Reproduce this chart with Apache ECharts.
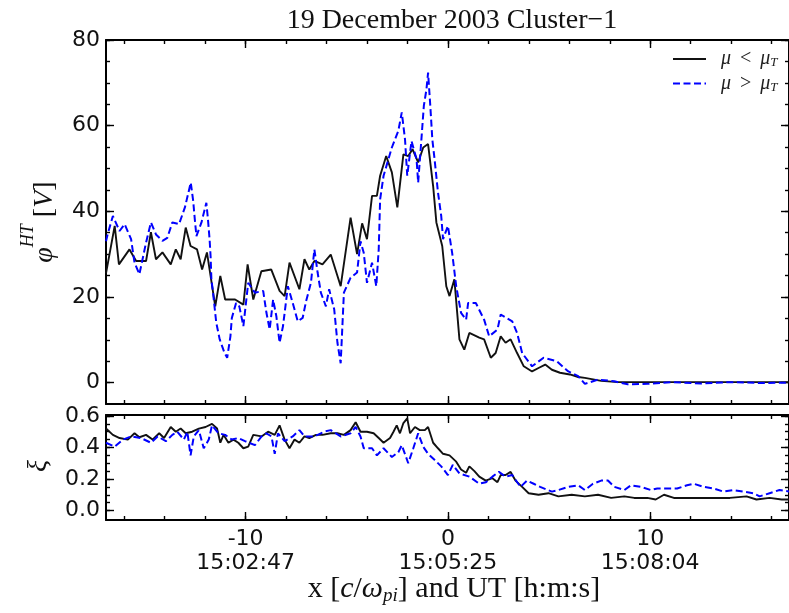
<!DOCTYPE html>
<html>
<head>
<meta charset="utf-8">
<script src="https://cdn.jsdelivr.net/npm/echarts@6/dist/echarts.min.js"></script>
<style>
  html, body { margin: 0; padding: 0; background: #fff; }
  #chart { width: 789px; height: 613px; }
</style>
</head>
<body>
<div id="chart"></div>
<script>
// Electric potential in the de Hoffmann-Teller frame, split by magnetic moment
const seriesNames = ['μ < μT', 'μ > μT'];

// phi^HT [V], mu < mu_T  (x in c/omega_pi)
const phiBelow = [
  [-16.9, 25.5], [-16.47, 36.6], [-16.26, 27.6], [-15.74, 31.1], [-15.41, 28.4],
  [-14.92, 28.4], [-14.68, 35.1], [-14.43, 28.8], [-14.11, 30.4], [-13.70, 27.6],
  [-13.45, 31.1], [-13.21, 28.8], [-12.96, 36.2], [-12.72, 31.9], [-12.40, 31.1],
  [-12.15, 26.4], [-11.91, 30.4], [-11.50, 17.8], [-11.25, 24.9], [-11.01, 19.4],
  [-10.52, 19.4], [-10.11, 18.2], [-9.90, 27.6], [-9.62, 19.4], [-9.22, 26.0],
  [-8.73, 26.4], [-8.32, 21.4], [-8.07, 20.2], [-7.83, 28.0], [-7.34, 21.8],
  [-7.09, 28.8], [-6.85, 26.4], [-6.60, 28.4], [-6.20, 27.6], [-5.79, 29.9],
  [-5.30, 22.5], [-4.81, 38.5], [-4.49, 30.0], [-4.24, 37.2], [-4.00, 33.5],
  [-3.75, 43.6], [-3.51, 43.6], [-3.35, 48.3], [-3.05, 52.9], [-2.77, 49.1],
  [-2.50, 40.9], [-2.20, 53.3], [-1.96, 52.9], [-1.75, 54.5], [-1.47, 51.4],
  [-1.22, 54.9], [-0.98, 55.7], [-0.73, 45.9], [-0.57, 37.4], [-0.28, 31.9],
  [-0.08, 22.5], [0.08, 20.2], [0.32, 24.1], [0.57, 10.1], [0.81, 7.7],
  [1.06, 11.6], [1.55, 10.5], [1.79, 10.1], [2.12, 5.8], [2.36, 6.9],
  [2.61, 10.8], [2.85, 9.3], [3.10, 10.1], [3.42, 6.9], [3.75, 3.8],
  [4.16, 2.6], [4.48, 3.4], [4.81, 4.2], [5.14, 3.0], [5.54, 2.3],
  [6.03, 1.9], [6.44, 1.3], [6.77, 1.1], [7.58, 0.4], [8.40, 0.1],
  [10.0, 0.1], [12.0, 0.1], [14.0, 0.1], [16.9, 0.1]
];

// phi^HT [V], mu > mu_T
const phiAbove = [
  [-16.9, 33.0], [-16.82, 34.6], [-16.56, 38.9], [-16.23, 35.4], [-15.98, 37.0],
  [-15.66, 33.5], [-15.49, 28.0], [-15.25, 25.3], [-14.92, 32.7], [-14.68, 37.4],
  [-14.43, 34.6], [-14.11, 33.1], [-13.87, 33.8], [-13.62, 37.4], [-13.29, 37.0],
  [-13.00, 40.9], [-12.71, 46.7], [-12.59, 42.4], [-12.51, 38.1], [-12.43, 34.2],
  [-12.18, 37.4], [-11.94, 42.0], [-11.86, 38.1], [-11.78, 33.5], [-11.73, 29.5],
  [-11.69, 24.1], [-11.61, 21.0], [-11.45, 14.0], [-11.28, 10.1], [-11.04, 6.9],
  [-10.91, 5.8], [-10.75, 10.8], [-10.68, 15.1], [-10.47, 18.6], [-10.31, 17.8],
  [-10.11, 13.2], [-9.87, 23.3], [-9.54, 21.0], [-9.13, 21.4], [-8.97, 16.3],
  [-8.81, 12.4], [-8.64, 19.4], [-8.48, 15.5], [-8.32, 9.3], [-8.15, 13.2],
  [-7.91, 22.5], [-7.67, 18.6], [-7.42, 14.3], [-7.18, 15.1], [-7.01, 19.0],
  [-6.77, 23.3], [-6.60, 31.1], [-6.44, 25.7], [-6.28, 21.0], [-6.03, 17.8],
  [-5.87, 21.8], [-5.62, 17.1], [-5.46, 9.3], [-5.30, 4.5], [-5.14, 21.0],
  [-4.81, 24.5], [-4.49, 25.7], [-4.32, 33.0], [-4.16, 30.3], [-4.00, 23.3],
  [-3.75, 28.0], [-3.54, 22.5], [-3.42, 31.1], [-3.35, 42.8], [-3.18, 48.3],
  [-2.77, 54.9], [-2.45, 58.8], [-2.28, 63.1], [-2.12, 56.8], [-2.01, 48.3],
  [-1.80, 56.4], [-1.55, 52.2], [-1.47, 46.7], [-1.31, 56.8], [-1.19, 64.6],
  [-1.06, 68.5], [-0.98, 72.4], [-0.87, 64.6], [-0.77, 56.8], [-0.66, 52.2],
  [-0.49, 44.4], [-0.33, 38.9], [-0.24, 33.5], [0.00, 36.6], [0.21, 30.3],
  [0.41, 22.5], [0.65, 16.3], [0.90, 14.7], [1.00, 18.6], [1.38, 18.6],
  [1.79, 14.7], [2.04, 10.8], [2.45, 12.4], [2.61, 15.9], [3.18, 14.3],
  [3.42, 11.6], [3.67, 6.9], [4.16, 3.8], [4.73, 5.8], [5.38, 5.0],
  [5.95, 2.6], [6.44, 1.5], [6.77, -0.3], [7.42, 0.7], [8.23, 0.3],
  [8.89, -0.4], [9.87, -0.3], [11.0, 0.1], [12.5, -0.2], [14.0, 0.1],
  [15.5, -0.1], [16.9, 0.0]
];

// xi, mu < mu_T
const xiBelow = [
  [-16.9, 0.52], [-16.56, 0.48], [-16.23, 0.46], [-15.82, 0.45], [-15.49, 0.49],
  [-15.25, 0.465], [-14.92, 0.48], [-14.60, 0.45], [-14.27, 0.49], [-14.03, 0.46],
  [-13.70, 0.53], [-13.45, 0.50], [-13.21, 0.52], [-12.96, 0.49], [-12.64, 0.50],
  [-12.31, 0.52], [-11.98, 0.53], [-11.66, 0.55], [-11.41, 0.52], [-11.25, 0.43],
  [-11.09, 0.48], [-10.85, 0.43], [-10.60, 0.45], [-10.36, 0.43], [-10.11, 0.395],
  [-9.87, 0.405], [-9.62, 0.48], [-9.21, 0.47], [-8.89, 0.50], [-8.56, 0.48],
  [-8.32, 0.54], [-8.07, 0.45], [-7.83, 0.395], [-7.58, 0.45], [-7.34, 0.43],
  [-7.09, 0.47], [-6.85, 0.46], [-6.52, 0.48], [-6.20, 0.48], [-5.79, 0.49],
  [-5.46, 0.49], [-5.14, 0.48], [-4.81, 0.51], [-4.56, 0.56], [-4.32, 0.50],
  [-4.00, 0.50], [-3.67, 0.49], [-3.42, 0.46], [-3.18, 0.43], [-2.86, 0.46],
  [-2.69, 0.50], [-2.53, 0.54], [-2.37, 0.49], [-2.20, 0.555], [-2.01, 0.585],
  [-1.87, 0.49], [-1.63, 0.53], [-1.39, 0.51], [-1.14, 0.51], [-0.98, 0.53],
  [-0.73, 0.43], [-0.49, 0.395], [-0.24, 0.36], [0.08, 0.35], [0.41, 0.31],
  [0.65, 0.26], [0.90, 0.24], [1.06, 0.28], [1.31, 0.25], [1.55, 0.215],
  [1.87, 0.19], [2.20, 0.205], [2.45, 0.18], [2.61, 0.225], [2.85, 0.225],
  [3.10, 0.245], [3.34, 0.19], [3.67, 0.15], [3.99, 0.11], [4.48, 0.10],
  [4.97, 0.11], [5.46, 0.09], [6.12, 0.10], [6.77, 0.09], [7.42, 0.10],
  [8.07, 0.08], [8.72, 0.09], [9.21, 0.08], [9.86, 0.08], [10.27, 0.07],
  [10.68, 0.10], [11.17, 0.08], [11.99, 0.08], [12.96, 0.08], [13.94, 0.08],
  [14.76, 0.09], [15.25, 0.07], [15.90, 0.08], [16.50, 0.07], [16.9, 0.07]
];

// xi, mu > mu_T
const xiAbove = [
  [-16.9, 0.43], [-16.47, 0.405], [-16.06, 0.45], [-15.66, 0.47], [-15.17, 0.46],
  [-14.68, 0.43], [-14.35, 0.47], [-13.94, 0.44], [-13.62, 0.48], [-13.38, 0.50],
  [-13.05, 0.45], [-12.88, 0.50], [-12.72, 0.35], [-12.56, 0.47], [-12.31, 0.51],
  [-12.07, 0.395], [-11.82, 0.45], [-11.66, 0.54], [-11.34, 0.49], [-11.01, 0.48],
  [-10.68, 0.45], [-10.36, 0.46], [-10.03, 0.44], [-9.54, 0.415], [-9.21, 0.47],
  [-8.97, 0.49], [-8.72, 0.47], [-8.56, 0.36], [-8.40, 0.49], [-8.07, 0.44],
  [-7.67, 0.47], [-7.34, 0.51], [-7.09, 0.47], [-6.60, 0.47], [-6.12, 0.50],
  [-5.79, 0.51], [-5.30, 0.47], [-4.81, 0.49], [-4.56, 0.53], [-4.32, 0.47],
  [-4.16, 0.395], [-3.75, 0.395], [-3.51, 0.35], [-3.18, 0.395], [-2.77, 0.34],
  [-2.45, 0.37], [-2.28, 0.415], [-1.96, 0.30], [-1.71, 0.395], [-1.47, 0.49],
  [-1.22, 0.405], [-0.98, 0.36], [-0.65, 0.32], [-0.33, 0.28], [0.00, 0.225],
  [0.24, 0.29], [0.57, 0.235], [1.06, 0.215], [1.55, 0.17], [1.88, 0.18],
  [2.20, 0.215], [2.52, 0.245], [2.85, 0.215], [3.18, 0.225], [3.59, 0.15],
  [3.91, 0.19], [4.24, 0.17], [4.56, 0.15], [5.14, 0.12], [5.46, 0.13],
  [5.95, 0.15], [6.44, 0.16], [6.77, 0.13], [7.17, 0.17], [7.58, 0.19],
  [7.91, 0.19], [8.23, 0.15], [8.72, 0.13], [9.05, 0.16], [9.54, 0.15],
  [10.03, 0.13], [10.35, 0.14], [10.84, 0.14], [11.33, 0.14], [11.82, 0.16],
  [12.15, 0.17], [12.64, 0.15], [13.13, 0.14], [13.62, 0.12], [14.11, 0.13],
  [14.60, 0.12], [15.09, 0.11], [15.41, 0.09], [15.90, 0.11], [16.39, 0.13],
  [16.9, 0.12]
];

// Axis ticks and labels
const xMajorTicks = [-10, 0, 10];
const xMinorTicks = [-16, -14, -12, -10, -8, -6, -4, -2, 0, 2, 4, 6, 8, 10, 12, 14, 16];
const xTickText = ['-10', '0', '10'];
const utTickText = ['15:02:47', '15:05:25', '15:08:04'];
const phiMajorTicks = [0, 20, 40, 60, 80];
const phiMinorTicks = [0, 5, 10, 15, 20, 25, 30, 35, 40, 45, 50, 55, 60, 65, 70, 75, 80];
const xiMajorTicks = [0, 0.2, 0.4, 0.6];
const xiMinorTicks = [0, 0.05, 0.1, 0.15, 0.2, 0.25, 0.3, 0.35, 0.4, 0.45, 0.5, 0.55, 0.6];

const X_MIN = -16.9, X_MAX = 16.86;
const PHI_MIN = -5, PHI_MAX = 80;
const XI_MIN = -0.06, XI_MAX = 0.606;

const INK = '#111';
const TICK_FONT = { fontFamily: 'DejaVu Sans', fontSize: 22, color: INK };
const SERIF = 'Liberation Serif';

function tickAxis(gridIndex, position, min, max, ticks, len, withLine) {
  return {
    type: 'value', gridIndex, position, min, max,
    axisLine: { show: !!withLine, onZero: false, lineStyle: { color: '#000', width: 2 } },
    axisTick: { show: true, inside: true, length: len, customValues: ticks,
                lineStyle: { color: '#000', width: 1.4 } },
    axisLabel: { show: false },
    splitLine: { show: false },
    minorTick: { show: false }
  };
}

function xAxesFor(gridIndex, withLabels) {
  const bottomMajor = tickAxis(gridIndex, 'bottom', X_MIN, X_MAX, xMajorTicks, 8);
  if (withLabels) {
    bottomMajor.axisLabel = Object.assign({
      show: true, customValues: xMajorTicks, margin: 7, lineHeight: 24,
      formatter: v => {
        const i = xMajorTicks.findIndex(t => Math.abs(t - v) < 1e-9);
        return i < 0 ? '' : xTickText[i] + '\n' + utTickText[i];
      }
    }, TICK_FONT);
  }
  return [
    tickAxis(gridIndex, 'bottom', X_MIN, X_MAX, xMinorTicks, 4, true),
    bottomMajor,
    tickAxis(gridIndex, 'top', X_MIN, X_MAX, xMinorTicks, 4, true),
    tickAxis(gridIndex, 'top', X_MIN, X_MAX, xMajorTicks, 8)
  ];
}

function yAxesFor(gridIndex, min, max, minor, major, fmt) {
  const leftMajor = tickAxis(gridIndex, 'left', min, max, major, 8);
  leftMajor.axisLabel = Object.assign({
    show: true, customValues: major, margin: 6, formatter: fmt
  }, TICK_FONT);
  return [
    tickAxis(gridIndex, 'left', min, max, minor, 4, true),
    leftMajor,
    tickAxis(gridIndex, 'right', min, max, minor, 4, true),
    tickAxis(gridIndex, 'right', min, max, major, 8)
  ];
}

const chart = echarts.init(document.getElementById('chart'), null, { renderer: 'canvas' });

const solid = { color: '#111', width: 1.9, type: 'solid' };
const dashed = { color: '#0000ff', width: 2, type: [7, 3.5] };

chart.setOption({
  animation: false,
  backgroundColor: '#fff',
  grid: [
    { left: 106, top: 40, width: 690, height: 364 },
    { left: 106, top: 415, width: 690, height: 105 }
  ],
  xAxis: [].concat(xAxesFor(0, false), xAxesFor(1, true)),
  yAxis: [].concat(
    yAxesFor(0, PHI_MIN, PHI_MAX, phiMinorTicks, phiMajorTicks, v => String(Math.round(v))),
    yAxesFor(1, XI_MIN, XI_MAX, xiMinorTicks, xiMajorTicks, v => v.toFixed(1))
  ),
  legend: {
    left: 667, top: 44, orient: 'vertical',
    itemWidth: 33, itemHeight: 12, itemGap: 4,
    data: seriesNames,
    itemStyle: { opacity: 0, borderWidth: 0 },
    formatter: name => (name === seriesNames[0]
      ? '{sp| }{it|μ}{op|<}{it|μ}{sub|T}'
      : '{sp| }{it|μ}{op|>}{it|μ}{sub|T}'),
    textStyle: {
      rich: {
        sp: { width: 10, fontSize: 10, lineHeight: 21 },
        it: { fontFamily: SERIF, fontStyle: 'italic', fontSize: 20, color: '#222', lineHeight: 21 },
        op: { fontFamily: SERIF, fontSize: 20, color: '#222', lineHeight: 21, padding: [0, 9, 0, 9] },
        sub: { fontFamily: SERIF, fontStyle: 'italic', fontSize: 13, color: '#222',
               lineHeight: 10, verticalAlign: 'bottom' }
      }
    }
  },
  series: [
    { name: seriesNames[0], type: 'line', xAxisIndex: 0, yAxisIndex: 0, data: phiBelow,
      symbol: 'none', lineStyle: solid, itemStyle: { color: '#111' }, z: 3 },
    { name: seriesNames[1], type: 'line', xAxisIndex: 0, yAxisIndex: 0, data: phiAbove,
      symbol: 'none', lineStyle: dashed, itemStyle: { color: '#0000ff' }, z: 4 },
    { name: seriesNames[0], type: 'line', xAxisIndex: 4, yAxisIndex: 4, data: xiBelow,
      symbol: 'none', lineStyle: solid, itemStyle: { color: '#111' }, z: 3 },
    { name: seriesNames[1], type: 'line', xAxisIndex: 4, yAxisIndex: 4, data: xiAbove,
      symbol: 'none', lineStyle: dashed, itemStyle: { color: '#0000ff' }, z: 4 }
  ],
  graphic: [
    { type: 'text', x: 452, y: 21, style: {
        text: '19 December 2003 Cluster\u22121', fontFamily: SERIF, fontSize: 28,
        fill: INK, align: 'center', verticalAlign: 'middle' } },
    { type: 'text', x: 454, y: 589, style: {
        text: '{n|x [}{it|c}{n|/}{it|ω}{sub|pi}{n|] and UT [h:m:s]}',
        align: 'center', verticalAlign: 'middle',
        rich: {
          n: { fontFamily: SERIF, fontSize: 30, fill: INK, lineHeight: 32 },
          it: { fontFamily: SERIF, fontStyle: 'italic', fontSize: 30, fill: INK, lineHeight: 32 },
          sub: { fontFamily: SERIF, fontStyle: 'italic', fontSize: 19, fill: INK,
                 lineHeight: 14, verticalAlign: 'bottom' }
        } } },
    { type: 'text', x: 45, y: 222, rotation: Math.PI / 2, style: {
        text: '{it|φ}{sup|HT}{n| [}{it|V}{n|]}',
        align: 'center', verticalAlign: 'middle',
        rich: {
          n: { fontFamily: SERIF, fontSize: 28, fill: INK, lineHeight: 52 },
          it: { fontFamily: SERIF, fontStyle: 'italic', fontSize: 28, fill: INK, lineHeight: 52 },
          sup: { fontFamily: SERIF, fontStyle: 'italic', fontSize: 18, fill: INK,
                 lineHeight: 16, verticalAlign: 'top' }
        } } },
    { type: 'text', x: 39, y: 466, rotation: Math.PI / 2, style: {
        text: 'ξ', fontFamily: SERIF, fontStyle: 'italic', fontSize: 28, fill: INK,
        align: 'center', verticalAlign: 'middle' } }
  ]
});
</script>
</body>
</html>
